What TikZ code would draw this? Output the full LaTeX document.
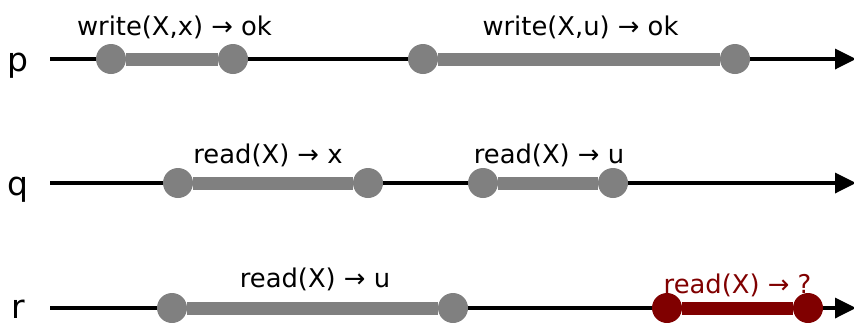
\documentclass[tikz,border=0pt]{standalone}
\usepackage{fontspec}
\setmainfont{DejaVu Sans}
\usetikzlibrary{arrows.meta}
\definecolor{opgray}{HTML}{808080}
\definecolor{opred}{HTML}{800000}
\begin{document}
\begin{tikzpicture}[x=1pt,y=-1pt,
  axis/.style={line width=3.5pt, -{Triangle[length=21pt,width=20pt]}},
  endpt/.style={circle, fill=#1, inner sep=0pt, minimum size=30pt},
  opbar/.style={line width=13pt, draw=#1},
  txt/.style={anchor=base, inner sep=0pt, font=\fontsize{25.8}{30}\selectfont},
  procname/.style={anchor=base, inner sep=0pt, font=\fontsize{33}{38}\selectfont},
  oplabel/.style={txt, text=#1},
]
\useasboundingbox (0,0) rectangle (854,322);
\clip (0,0) rectangle (854,322);

% process names and time axes
\node[procname] (pname) at (18,71) {p};
\node[procname] (qname) at (18,195) {q};
\node[procname] (rname) at (18,318) {r};
\coordinate (p0) at (50,59);  \coordinate (p1) at (856,59);
\coordinate (q0) at (50,183); \coordinate (q1) at (856,183);
\coordinate (r0) at (50,308); \coordinate (r1) at (856,308);
\draw[axis] (p0) -- (p1);
\draw[axis] (q0) -- (q1);
\draw[axis] (r0) -- (r1);

% operations on p
\node[endpt=opgray] (pw1s) at (111,59) {};
\node[endpt=opgray] (pw1e) at (233,59) {};
\draw[opbar=opgray] (pw1s) -- (pw1e);
\node[oplabel=black] (pw1l) at (174.5,35) {write(X,x) → ok};

\node[endpt=opgray] (pw2s) at (423,59) {};
\node[endpt=opgray] (pw2e) at (735,59) {};
\draw[opbar=opgray] (pw2s) -- (pw2e);
\node[oplabel=black] (pw2l) at (580.5,35) {write(X,u) → ok};

% operations on q
\node[endpt=opgray] (qr1s) at (178,183) {};
\node[endpt=opgray] (qr1e) at (368,183) {};
\draw[opbar=opgray] (qr1s) -- (qr1e);
\node[oplabel=black] (qr1l) at (268,163) {read(X) → x};

\node[endpt=opgray] (qr2s) at (483,183) {};
\node[endpt=opgray] (qr2e) at (613,183) {};
\draw[opbar=opgray] (qr2s) -- (qr2e);
\node[oplabel=black] (qr2l) at (549,163) {read(X) → u};

% operations on r
\node[endpt=opgray] (rr1s) at (172,308) {};
\node[endpt=opgray] (rr1e) at (453,308) {};
\draw[opbar=opgray] (rr1s) -- (rr1e);
\node[oplabel=black] (rr1l) at (315,287) {read(X) → u};

\node[endpt=opred] (rr2s) at (667,308) {};
\node[endpt=opred] (rr2e) at (808,308) {};
\draw[opbar=opred] (rr2s) -- (rr2e);
\node[oplabel=opred] (rr2l) at (737.5,293) {read(X) → ?};
\end{tikzpicture}
\end{document}
